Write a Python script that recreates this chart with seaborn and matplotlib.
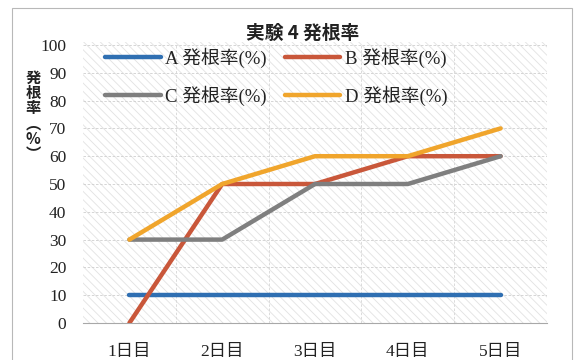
import matplotlib
matplotlib.use("Agg")
import matplotlib.pyplot as plt
import matplotlib.patches as mpatches
import seaborn as sns
import pandas as pd

days = ["1日目", "2日目", "3日目", "4日目", "5日目"]
series_names = ["A 発根率(%)", "B 発根率(%)", "C 発根率(%)", "D 発根率(%)"]
a_vals = [10, 10, 10, 10, 10]
b_vals = [0, 50, 50, 60, 60]
c_vals = [30, 30, 50, 50, 60]
d_vals = [30, 50, 60, 60, 70]
y_ticks = list(range(0, 101, 10))
colors = ["#2f6fb2", "#c9573a", "#7f7f7f", "#f0a52c"]

rows = []
for name, vals in zip(series_names, [a_vals, b_vals, c_vals, d_vals]):
    for d, v in zip(days, vals):
        rows.append({"day": d, "value": v, "series": name})
df = pd.DataFrame(rows)

sns.set_theme(style="white")
plt.rcParams["hatch.linewidth"] = 0.6
serif = ["Liberation Serif", "Noto Sans CJK JP"]
cjk = ["Noto Sans CJK JP", "DejaVu Sans"]

fig = plt.figure(figsize=(5.82, 3.6), dpi=100)
ax = fig.add_axes([83/582, 1-323/360, 464/582, 278/360])

# outer frame
fig.patches.append(mpatches.Rectangle((12/582, -0.05), 560/582, 1.05 - 8/360,
                                      transform=fig.transFigure, fill=False,
                                      edgecolor="#b8b8b8", lw=0.8))

# hatched plot-area background
ax.add_patch(mpatches.Rectangle((0, 0), 1, 1.01, transform=ax.transAxes,
                                facecolor="white", hatch="\\\\\\\\", edgecolor="#e2e2e2",
                                lw=0, zorder=0, clip_on=False))

sns.lineplot(data=df, x="day", y="value", hue="series", hue_order=series_names,
             palette=colors, linewidth=3.2, ax=ax, sort=False, legend=True, zorder=3)

ax.set_xlim(-0.5, 4.5)
ax.set_ylim(0, 100)
ax.set_yticks(y_ticks)
ax.set_yticklabels([str(t) for t in y_ticks], family=serif, fontsize=12.5, color="#222222")
ax.set_xticks(range(len(days)))
ax.set_xticklabels(days, family=serif, fontsize=12.5, color="#222222")
ax.tick_params(axis="x", pad=15, length=0)
ax.tick_params(axis="y", pad=12, length=0)
ax.set_xlabel("")
ax.set_ylabel("")

for y in y_ticks[1:]:
    ax.axhline(y, color="#cfcfcf", lw=0.6, ls=(0, (3, 2)), zorder=1)
for x in [0.5, 1.5, 2.5, 3.5]:
    ax.axvline(x, color="#d6d6d6", lw=0.6, ls=(0, (3, 2)), zorder=1)

for s in ["top", "right", "left"]:
    ax.spines[s].set_visible(False)
ax.spines["bottom"].set_color("#a8a8a8")
ax.spines["bottom"].set_linewidth(0.8)

handles, labels = ax.get_legend_handles_labels()
order = [0, 2, 1, 3]
leg = ax.legend([handles[i] for i in order], [labels[i] for i in order], ncol=2,
                loc="upper left",
                bbox_to_anchor=(96/582, 1-38/360), bbox_transform=fig.transFigure,
                frameon=False, handlelength=2.95, handletextpad=0.25,
                columnspacing=0.95, labelspacing=0.95, borderpad=0,
                prop={"family": serif, "size": 13.5})
for t in leg.get_texts():
    t.set_color("#222222")

fig.text(303/582, 1-33/360, "実験 4 発根率", ha="center", va="center",
         family=cjk, fontsize=13.5, fontweight="bold", color="#222222")
fig.text(33/582, 1-116/360, "発\n根\n率\n︵\n%\n︶", ha="center", va="center",
         family=cjk, fontsize=11, fontweight="bold", color="#222222", linespacing=0.95)

fig.savefig("out.png", dpi=100)
